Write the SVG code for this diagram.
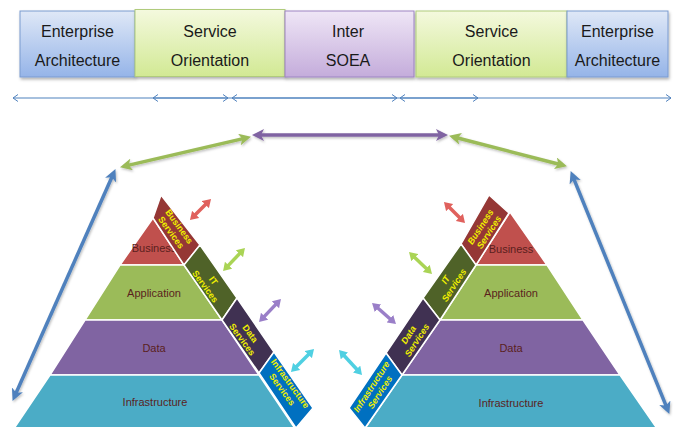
<svg xmlns="http://www.w3.org/2000/svg" width="674" height="427" viewBox="0 0 674 427">
<defs>
<linearGradient id="gBlue" x1="0" y1="0" x2="0" y2="1"><stop offset="0" stop-color="#dfe8f7"/><stop offset="1" stop-color="#95b4e8"/></linearGradient>
<linearGradient id="gGreen" x1="0" y1="0" x2="0" y2="1"><stop offset="0" stop-color="#f4f9de"/><stop offset="1" stop-color="#d2e994"/></linearGradient>
<linearGradient id="gPurple" x1="0" y1="0" x2="0" y2="1"><stop offset="0" stop-color="#efe6f6"/><stop offset="1" stop-color="#c4acdb"/></linearGradient>
<filter id="sh" x="-10%" y="-10%" width="130%" height="140%"><feDropShadow dx="1" dy="2" stdDeviation="1.5" flood-color="#000" flood-opacity="0.3"/></filter>
<filter id="sh2" filterUnits="userSpaceOnUse" x="0" y="0" width="674" height="427"><feDropShadow dx="1" dy="1.5" stdDeviation="1.2" flood-color="#000" flood-opacity="0.25"/></filter>
<marker id="chev" viewBox="0 0 6 8" refX="5.5" refY="4" markerWidth="6" markerHeight="8" markerUnits="userSpaceOnUse" orient="auto-start-reverse"><path d="M0.5,0.5 L5.5,4 L0.5,7.5" fill="none" stroke="#4f81bd" stroke-width="1"/></marker>
<marker id="mGreen" viewBox="0 0 12 12" refX="5" refY="6" markerWidth="12" markerHeight="12" markerUnits="userSpaceOnUse" orient="auto-start-reverse"><path d="M0,0 L12,6 L0,12 L3,6 z" fill="#9bbb59"/></marker>
<marker id="mBlue" viewBox="0 0 12 12" refX="5" refY="6" markerWidth="12" markerHeight="12" markerUnits="userSpaceOnUse" orient="auto-start-reverse"><path d="M0,0 L12,6 L0,12 L3,6 z" fill="#4f81bd"/></marker>
<marker id="mPurple" viewBox="0 0 12 12" refX="5" refY="6" markerWidth="12" markerHeight="12" markerUnits="userSpaceOnUse" orient="auto-start-reverse"><path d="M0,0 L12,6 L0,12 L3,6 z" fill="#8064a2"/></marker>
<marker id="sRed" viewBox="0 0 8 10" refX="3" refY="5" markerWidth="8" markerHeight="10" markerUnits="userSpaceOnUse" orient="auto-start-reverse"><path d="M0,0 L8,5 L0,10 z" fill="#e0615d"/></marker>
<marker id="sGreen" viewBox="0 0 8 10" refX="3" refY="5" markerWidth="8" markerHeight="10" markerUnits="userSpaceOnUse" orient="auto-start-reverse"><path d="M0,0 L8,5 L0,10 z" fill="#aad455"/></marker>
<marker id="sPurple" viewBox="0 0 8 10" refX="3" refY="5" markerWidth="8" markerHeight="10" markerUnits="userSpaceOnUse" orient="auto-start-reverse"><path d="M0,0 L8,5 L0,10 z" fill="#9a7fc8"/></marker>
<marker id="sCyan" viewBox="0 0 8 10" refX="3" refY="5" markerWidth="8" markerHeight="10" markerUnits="userSpaceOnUse" orient="auto-start-reverse"><path d="M0,0 L8,5 L0,10 z" fill="#4fd0e2"/></marker>
</defs>
<style>
.bx{stroke-width:1;filter:url(#sh)}
.bt{font-family:"Liberation Sans",Arial,sans-serif;font-size:16px;fill:#1a1a1a;text-anchor:middle}
.ly{stroke:#ffffff;stroke-width:1.5;stroke-linejoin:round}
.lt{font-family:"Liberation Sans",Arial,sans-serif;font-size:11px;fill:#5a1f1d;text-anchor:middle}
.st{font-family:"Liberation Sans",Arial,sans-serif;font-size:9px;font-weight:bold;fill:#f0f000;text-anchor:middle}
.it{font-style:italic}
.row{stroke:#4f81bd;stroke-width:1.2;fill:none;marker-start:url(#chev);marker-end:url(#chev)}
.big{stroke-width:3.5;fill:none;filter:url(#sh2)}
.sm{stroke-width:3.5;fill:none}
</style>

<g id="box-ea-left"><rect class="bx" x="20" y="11" width="115" height="66" fill="url(#gBlue)" stroke="#7a9bd0"/><text class="bt" x="77.5" y="37">Enterprise</text><text class="bt" x="77.5" y="66">Architecture</text></g>
<g id="box-so-left"><rect class="bx" x="135" y="9.5" width="150" height="67" fill="url(#gGreen)" stroke="#b0cb7c"/><text class="bt" x="210" y="37">Service</text><text class="bt" x="210" y="66">Orientation</text></g>
<g id="box-inter"><rect class="bx" x="285" y="11" width="129" height="66" fill="url(#gPurple)" stroke="#9d84c2"/><text class="bt" x="348" y="37">Inter</text><text class="bt" x="348" y="66">SOEA</text></g>
<g id="box-so-right"><rect class="bx" x="416" y="11" width="151" height="66" fill="url(#gGreen)" stroke="#b0cb7c"/><text class="bt" x="491.5" y="37">Service</text><text class="bt" x="491.5" y="66">Orientation</text></g>
<g id="box-ea-right"><rect class="bx" x="567" y="11" width="101" height="66" fill="url(#gBlue)" stroke="#7a9bd0"/><text class="bt" x="617.5" y="37">Enterprise</text><text class="bt" x="617.5" y="66">Architecture</text></g>

<g id="pyramid-left">
<polygon class="ly" points="153,218 184,265 120,265" fill="#c0504d"/>
<polygon class="ly" points="120,265 184,265 222,320 85,320" fill="#9bbb59"/>
<polygon class="ly" points="85,320 222,320 259,375 50,375" fill="#8064a2"/>
<polygon class="ly" points="50,375 259,375 296,430 13,430" fill="#4bacc6"/>
<text class="lt" x="154" y="252">Business</text>
<text class="lt" x="154" y="297">Application</text>
<text class="lt" x="154" y="352">Data</text>
<text class="lt" x="155" y="406">Infrastructure</text>
<polygon class="ly" points="161,195 200,245 184,265 153,218" fill="#953735"/>
<polygon class="ly" points="200,245 237,298 222,320 184,265" fill="#4f6228"/>
<polygon class="ly" points="237,298 274,352 259,373 222,320" fill="#403152"/>
<polygon class="ly" points="274,352 313,408 296,428 259,373" fill="#0070c0"/>
<text class="st" transform="translate(176,229) rotate(54)"><tspan x="0" y="-1">Business</tspan><tspan x="0" y="9">Services</tspan></text>
<text class="st" transform="translate(210,283) rotate(54)"><tspan x="0" y="-1">IT</tspan><tspan x="0" y="9">Services</tspan></text>
<text class="st" transform="translate(247,336) rotate(54)"><tspan x="0" y="-1">Data</tspan><tspan x="0" y="9">Services</tspan></text>
<text class="st" transform="translate(287,386) rotate(54)"><tspan x="0" y="-1">Infrastructure</tspan><tspan x="0" y="9">Services</tspan></text>
</g>

<g id="pyramid-right">
<polygon class="ly" points="510,212 547,265 476,265" fill="#c0504d"/>
<polygon class="ly" points="476,265 547,265 583,320 440,320" fill="#9bbb59"/>
<polygon class="ly" points="440,320 583,320 620,375 402,375" fill="#8064a2"/>
<polygon class="ly" points="402,375 620,375 658,430 364,430" fill="#4bacc6"/>
<text class="lt" x="511" y="253">Business</text>
<text class="lt" x="511" y="297">Application</text>
<text class="lt" x="511" y="352">Data</text>
<text class="lt" x="511" y="407">Infrastructure</text>
<polygon class="ly" points="489,195 509,213 476,265 461,244" fill="#953735"/>
<polygon class="ly" points="461,244 476,265 440,320 423,298" fill="#4f6228"/>
<polygon class="ly" points="423,298 440,320 402,375 386,353" fill="#403152"/>
<polygon class="ly" points="386,353 402,375 365,428 349,408" fill="#0070c0"/>
<text class="st it" transform="translate(484,229) rotate(-57)"><tspan x="0" y="-1">Business</tspan><tspan x="0" y="9">Services</tspan></text>
<text class="st it" transform="translate(449,282) rotate(-57)"><tspan x="0" y="-1">IT</tspan><tspan x="0" y="9">Services</tspan></text>
<text class="st it" transform="translate(412,337) rotate(-57)"><tspan x="0" y="-1">Data</tspan><tspan x="0" y="9">Services</tspan></text>
<text class="st it" transform="translate(375,389) rotate(-57)"><tspan x="0" y="-1">Infrastructure</tspan><tspan x="0" y="9">Services</tspan></text>
</g>

<g id="connectors">
<line class="row" x1="13" y1="98" x2="228" y2="98"/>
<line class="row" x1="153" y1="98" x2="478" y2="98"/>
<line class="row" x1="232" y1="98" x2="397" y2="98"/>
<line class="row" x1="400" y1="98" x2="671" y2="98"/>

<line class="big" x1="259" y1="135" x2="441" y2="135" stroke="#8064a2" marker-start="url(#mPurple)" marker-end="url(#mPurple)"/>
<line class="big" x1="126.8" y1="165.6" x2="244.2" y2="138.4" stroke="#9bbb59" marker-start="url(#mGreen)" marker-end="url(#mGreen)"/>
<line class="big" x1="455.8" y1="137.5" x2="560.2" y2="164.5" stroke="#9bbb59" marker-start="url(#mGreen)" marker-end="url(#mGreen)"/>
<line class="big" x1="112.6" y1="175.5" x2="15.4" y2="394.5" stroke="#4f81bd" marker-start="url(#mBlue)" marker-end="url(#mBlue)"/>
<line class="big" x1="573.3" y1="177.6" x2="666.7" y2="407.4" stroke="#4f81bd" marker-start="url(#mBlue)" marker-end="url(#mBlue)"/>

<line class="sm" x1="193.5" y1="216.5" x2="207.5" y2="202.5" stroke="#e0615d" marker-start="url(#sRed)" marker-end="url(#sRed)"/>
<line class="sm" x1="226.5" y1="267.4" x2="241.5" y2="251.6" stroke="#aad455" marker-start="url(#sGreen)" marker-end="url(#sGreen)"/>
<line class="sm" x1="262.5" y1="318.4" x2="277.5" y2="302.6" stroke="#9a7fc8" marker-start="url(#sPurple)" marker-end="url(#sPurple)"/>
<line class="sm" x1="294.5" y1="368.5" x2="310.5" y2="352.5" stroke="#4fd0e2" marker-start="url(#sCyan)" marker-end="url(#sCyan)"/>
<line class="sm" x1="447.5" y1="205.5" x2="461.5" y2="219.5" stroke="#e0615d" marker-start="url(#sRed)" marker-end="url(#sRed)"/>
<line class="sm" x1="412.6" y1="255.5" x2="428.4" y2="270.5" stroke="#aad455" marker-start="url(#sGreen)" marker-end="url(#sGreen)"/>
<line class="sm" x1="375.8" y1="306.3" x2="392.2" y2="320.7" stroke="#9a7fc8" marker-start="url(#sPurple)" marker-end="url(#sPurple)"/>
<line class="sm" x1="342.4" y1="353.7" x2="358.6" y2="371.3" stroke="#4fd0e2" marker-start="url(#sCyan)" marker-end="url(#sCyan)"/>
</g>
</svg>
